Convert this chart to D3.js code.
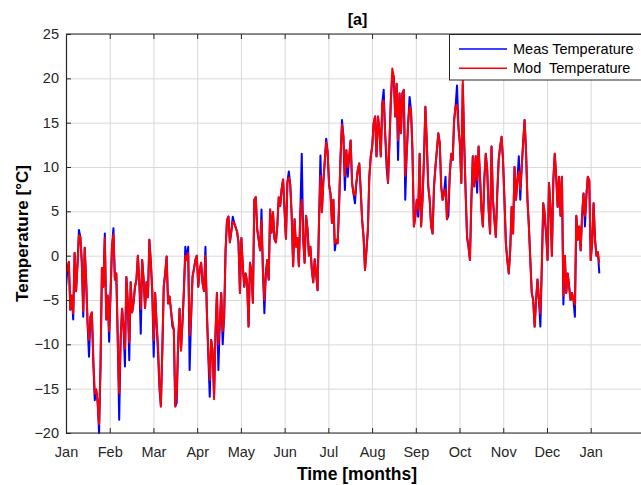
<!DOCTYPE html>
<html>
<head>
<meta charset="utf-8">
<script src="https://d3js.org/d3.v7.min.js"></script>
<style>
  body { margin: 0; background: #fff; }
  svg { display: block; font-family: "Liberation Sans", Arial, Helvetica, sans-serif; }
</style>
</head>
<body>
<div id="chart"></div>
<script>
// tick labels
var monthLabels = ['Jan', 'Feb', 'Mar', 'Apr', 'May', 'Jun', 'Jul', 'Aug', 'Sep', 'Oct', 'Nov', 'Dec', 'Jan'];
var yTicks = [-20, -15, -10, -5, 0, 5, 10, 15, 20, 25];
var seriesNames = ['Meas Temperature', 'Mod  Temperature'];
var seriesColors = ['#0000ff', '#ff0000'];

// daily values, day 0 = 1 Jan
var measTemp = [
  -3.5, -1.5, -0.7, -6.1, -4.5, -7.2, 0.3, -4, -1, 2.9,
  2.1, -0.8, -6.9, 0.9, -2.7, -7.6, -11.4, -6.9, -6.4, -12.1,
  -16.3, -15.1, -16.5, -20, -12.5, -1.4, -3.5, 2.5, -7.2, -4.5,
  -9.7, -4.2, 1.0, 3.1, -2.7, -2.0, -9.5, -18.5, -9.5, -6,
  -8, -12.5, -2.4, -5.3, -11.8, -3, -6.4, -5.3, -3.5, -2.7,
  0, -3, -8.8, -0.5, -2.7, -5.9, -3, -4.7, 1.8, -0.7,
  -4, -11.4, -4.2, -7.6, -11, -15, -17, -10.7, -3.5, -2,
  -0.1, -5.4, -4.6, -6.1, -8, -8.3, -17, -16.6, -10, -6,
  -10.7, -7.6, -4, 1.0, -0.5, 1.0, -12.9, -7, -2.4, -1.5,
  -0.5, 0, -3.5, -1.6, -0.8, -3.1, -4, 1.0, -6.4, -11.4,
  -15.9, -9.5, -10.7, -15.8, -8.7, -4.2, -12.9, -7.6, -4.2, -10,
  -7, 0.6, 4, 4.4, 1.5, 2.7, 4.4, 3.7, 3.2, 2.7,
  1.5, -4.2, 2, -1.2, -3.5, -2, -3, -8, -0.8, -1.8,
  -5.3, 6.3, 6.6, 3, 1.8, 0.6, 5.2, -1.8, -6.5, -2,
  -0.5, -2.7, 5.2, 2.6, 4.9, 1.9, 1.5, 3.4, 6.6, 5.6,
  7.5, 8.6, 5.2, 1.9, 8.3, 9.5, 8, 4.5, -1.2, 4.1,
  1, 2, -1.2, 4.9, 11.5, 1.9, -0.8, 4.5, 3, 0,
  1, -1.6, -3, -0.4, -2, -3.9, 3.8, 11.3, 4.9, 8.3,
  10.6, 13.2, 11.7, 8, 7, 3.7, 6.3, 0.6, 1.8, 1.4,
  5.9, 11.2, 15.3, 13.4, 7.4, 11.9, 8.9, 11.2, 13.0, 8.2,
  7, 5.9, 8.2, 9.7, 10.4, 7.4, 4.0, 2.1, -1.6, 0.6,
  2.9, 8.9, 11.2, 12.3, 14.9, 15.7, 11.2, 15.7, 14.2, 11.2,
  17.2, 18.7, 13.8, 10, 8.2, 12.7, 17.6, 20.4, 20.2, 15.7,
  19.4, 10.8, 18.3, 13.8, 18.3, 18.7, 6.3, 11.5, 14.9, 17.9,
  16.4, 11.9, 3.3, 4.4, 6.3, 4.4, 11.5, 3.3, 6.3, 10.8,
  16.8, 12.7, 7.8, 6.3, 3.3, 2.5, 7.8, 10, 11.9, 13.8,
  12.7, 7.8, 6.3, 7.1, 8.9, 4.1, 4.5, 9.3, 11.5, 10.8,
  15.3, 16.8, 19.2, 14.5, 12.7, 8.2, 19.3, 12.7, 7.1, 2.1,
  1, -0.5, 6.3, 11.2, 7.8, 11.2, 7.1, 12.3, 8.9, 5.2,
  3.3, 8.6, 11.5, 9.7, 5.2, 2.5, 12.3, 6.3, 4.1, 2.1,
  7.1, 10.8, 12.3, 13.4, 10.8, 6.3, 1.4, -0.5, -2, 0.6,
  5.5, 2.5, 10, 6.3, 8.5, 11.2, 6.3, 10, 12.7, 15.3,
  11.9, 6.3, 3.3, -0.5, -4.2, -5, -8, -5, -2.7, -5,
  -8, -1.2, 5.9, 4, 2.5, -0.5, 8.2, 5.5, 0, 8.5,
  11.5, 8.9, 5.5, 8.9, 4.5, 8.9, -5.5, 0, -4.2, -2,
  -3.5, -5, -4.2, -5, -6.9, 4.5, 1.8, 3.3, 0.6, 4.5,
  7, 3.3, 6.8, 8.9, 8.5, -0.5, 1.4, 5.9, 1.8, 0,
  0.4, -2
];

var modTemp = [
  -2, -1.5, -0.7, -6.1, -4.5, -6.5, 0.3, -4, -1, 2.3,
  2.1, -0.8, -6.2, 0.9, -2.7, -7.6, -9.5, -6.9, -6.4, -11.5,
  -15.5, -15.1, -16.5, -19, -12.5, -1.4, -3.5, 2, -7.2, -4.5,
  -8.5, -4.2, 1.0, 2.4, -2.7, -2.0, -9.5, -15.5, -9.5, -6,
  -8, -10.5, -2.4, -5.3, -9.8, -3, -6.4, -5.3, -3.5, -2.7,
  0, -3, -6, -0.5, -2.7, -5.9, -3, -4.7, 1.8, -0.7,
  -4, -9.5, -4.2, -7.6, -10, -14.2, -17, -10.7, -3.5, -2,
  -0.1, -5.4, -4.6, -6.1, -7.4, -8.3, -17, -15.5, -10, -6,
  -10.7, -7.6, -4, 0, -0.5, 0.3, -9, -7, -2.4, -1.5,
  -0.5, 0, -3.5, -1.6, -0.8, -3.1, -4, 0, -6.4, -10.8,
  -14, -9.5, -10.7, -16.2, -8.7, -4.2, -10, -7.6, -4.2, -8.5,
  -7, 0.6, 4, 4.4, 1.5, 2.7, 3.8, 3.7, 3.2, 2.7,
  1.5, -4.2, 2, -1.2, -3.5, -2, -3, -8, -0.8, -1.8,
  -5.3, 6.3, 6.6, 3, 1.8, 0.6, 4, -1.8, -5, -2,
  -0.5, -2.7, 5.2, 2.6, 4.9, 1.9, 1.5, 3.4, 6.6, 5.6,
  7.5, 8.6, 5.2, 1.9, 8.3, 8.8, 8, 4.5, -1.2, 4.1,
  1, 2, -1.2, 4.9, 6.3, 1.9, -0.8, 4.5, 3, 0,
  1, -1.6, -3, -0.4, -2, -3.9, 3.8, 9, 4.9, 8.3,
  10.6, 12.8, 11.7, 8, 7, 3.7, 6.3, 1.4, 1.8, 1.4,
  5.9, 11.2, 14.8, 13.4, 9, 11.9, 10, 11.2, 13.0, 8.2,
  7, 6.8, 8.2, 9.7, 10.4, 7.4, 4.0, 2.1, -1.6, 0.6,
  2.9, 8.9, 11.2, 12.3, 14.9, 15.7, 11.2, 15.7, 14.2, 11.2,
  17.2, 17.5, 13.8, 11.3, 8.2, 12.7, 17.6, 21.1, 20.2, 15.7,
  19.4, 13, 18.3, 13.8, 18.3, 18.7, 9, 11.5, 14.9, 16.8,
  16.4, 11.9, 3.3, 4.4, 6.3, 5.2, 11.5, 3.3, 6.3, 10.8,
  16.8, 12.7, 7.8, 6.3, 3.3, 2.5, 7.8, 10, 11.9, 13.8,
  12.7, 7.8, 6.3, 7.1, 7.5, 4.1, 6, 9.3, 11.5, 10.8,
  15.3, 16.8, 17, 14.5, 12.7, 8.2, 19.8, 12.7, 7.1, 2.1,
  1, -0.5, 6.3, 11.2, 7.8, 11.2, 8.5, 12.3, 8.9, 5.2,
  3.3, 8.6, 11.5, 9.7, 5.2, 2.5, 12.3, 6.3, 4.1, 2.1,
  7.1, 10.8, 12.3, 13.4, 10.8, 6.3, 1.4, -0.5, -2, 0.6,
  5.5, 2.5, 10, 6.3, 8.5, 9.5, 7.5, 10, 12.7, 15.3,
  11.9, 6.3, 3.3, -0.5, -4.2, -5, -8, -5, -2.7, -5,
  -6.5, -1.2, 5.9, 5, 2.5, -0.5, 8.2, 5.5, 0, 8.5,
  11.5, 8.9, 5.5, 8.9, 4.5, 8.9, -4.5, 0, -4.2, -2,
  -3.5, -5, -4.2, -5, -5.5, 4.5, 1.8, 3.3, 0.6, 4.5,
  7, 4.5, 6.8, 8.9, 8.5, -0.5, 1.4, 5.9, 1.8, 0,
  0.4, -0.8
];

var width = 641,
  height = 485;

var plotLeft = 66,
  plotTop = 34,
  plotBottom = 433,
  plotRight = 649; // axes box runs past the picture edge

// x is in days, months evenly spaced (365/12 days each)
var x = d3.scaleLinear().domain([0, 365]).range([plotLeft, 590.7]);
var y = d3.scaleLinear().domain([-20, 25]).range([plotBottom, plotTop]);

var monthTicks = monthLabels.map(function(d, i) {
  return i * 365 / 12;
});

var svg = d3.select('#chart').append('svg')
  .attr('width', width)
  .attr('height', height)
  .attr('viewBox', '0 0 ' + width + ' ' + height);

svg.append('rect').attr('width', width).attr('height', height).attr('fill', '#fff');

svg.append('defs').append('clipPath').attr('id', 'plotclip')
  .append('rect')
  .attr('x', plotLeft).attr('y', plotTop - 1)
  .attr('width', plotRight - plotLeft).attr('height', plotBottom - plotTop + 2);

//grid
var grid = svg.append('g').attr('class', 'grid');
grid.append('g')
  .attr('transform', 'translate(0,' + plotBottom + ')')
  .call(d3.axisBottom(x).tickValues(monthTicks).tickSize(-(plotBottom - plotTop)).tickFormat(''));
grid.append('g')
  .attr('transform', 'translate(' + plotLeft + ',0)')
  .call(d3.axisLeft(y).tickValues(yTicks).tickSize(-(plotRight - plotLeft)).tickFormat(''));
grid.selectAll('.domain').remove();
grid.selectAll('line').attr('stroke', '#d9d9d9').attr('stroke-width', 1);

//lines
var line = d3.line()
  .x(function(d, i) { return x(i); })
  .y(function(d) { return y(d); });

var plot = svg.append('g').attr('clip-path', 'url(#plotclip)');
[measTemp, modTemp].forEach(function(series, k) {
  plot.append('path')
    .datum(series)
    .attr('d', line)
    .attr('fill', 'none')
    .attr('stroke', seriesColors[k])
    .attr('stroke-width', 2)
    .attr('stroke-linejoin', 'round');
});

//axes
var axisColor = '#262626';
var xAxis = svg.append('g')
  .attr('transform', 'translate(0,' + plotBottom + ')')
  .call(d3.axisBottom(x).tickValues(monthTicks)
    .tickFormat(function(d, i) { return monthLabels[i]; })
    .tickSizeInner(-5).tickSizeOuter(0).tickPadding(14));

var xTop = svg.append('g')
  .attr('transform', 'translate(0,' + plotTop + ')')
  .call(d3.axisTop(x).tickValues(monthTicks).tickFormat('')
    .tickSizeInner(-5).tickSizeOuter(0));

var yAxis = svg.append('g')
  .attr('transform', 'translate(' + plotLeft + ',0)')
  .call(d3.axisLeft(y).tickValues(yTicks)
    .tickSizeInner(-5).tickSizeOuter(0).tickPadding(7));

[xAxis, xTop, yAxis].forEach(function(g) {
  g.select('.domain').attr('stroke', axisColor).attr('stroke-width', 1.2);
  g.selectAll('line').attr('stroke', axisColor);
  g.selectAll('text')
    .attr('fill', axisColor)
    .style('font-size', '14.5px')
    .style('font-family', '"Liberation Sans", Arial, sans-serif');
});

// extend the bottom/top spines to the right edge
xAxis.select('.domain').attr('d', 'M' + plotLeft + ',0H' + plotRight);
xTop.select('.domain').attr('d', 'M' + plotLeft + ',0H' + plotRight);

//labels
svg.append('text')
  .attr('x', 357.5).attr('y', 25)
  .attr('text-anchor', 'middle')
  .style('font-size', '16px').style('font-weight', 'bold')
  .attr('fill', '#000')
  .text('[a]');

svg.append('text')
  .attr('x', 357).attr('y', 480)
  .attr('text-anchor', 'middle')
  .style('font-size', '17.5px').style('font-weight', 'bold')
  .attr('fill', '#000')
  .text('Time [months]');

svg.append('text')
  .attr('transform', 'translate(28,' + ((plotTop + plotBottom) / 2) + ') rotate(-90)')
  .attr('text-anchor', 'middle')
  .style('font-size', '17px').style('font-weight', 'bold')
  .attr('fill', '#000')
  .text('Temperature [°C]');

//legend
var legend = svg.append('g').attr('class', 'legend');
legend.append('rect')
  .attr('x', 449.5).attr('y', plotTop + 0.5)
  .attr('width', 196).attr('height', 45.5)
  .attr('fill', '#fff')
  .attr('stroke', axisColor)
  .attr('stroke-width', 1);

seriesNames.forEach(function(name, k) {
  var ly = 49 + k * 19.3;
  legend.append('line')
    .attr('x1', 459).attr('x2', 507)
    .attr('y1', ly).attr('y2', ly)
    .attr('stroke', seriesColors[k])
    .attr('stroke-width', 1.5);
  legend.append('text')
    .attr('x', 513).attr('y', ly + 5)
    .style('font-size', '14.5px')
    .style('white-space', 'pre')
    .attr('fill', '#000')
    .text(name);
});
</script>
</body>
</html>
